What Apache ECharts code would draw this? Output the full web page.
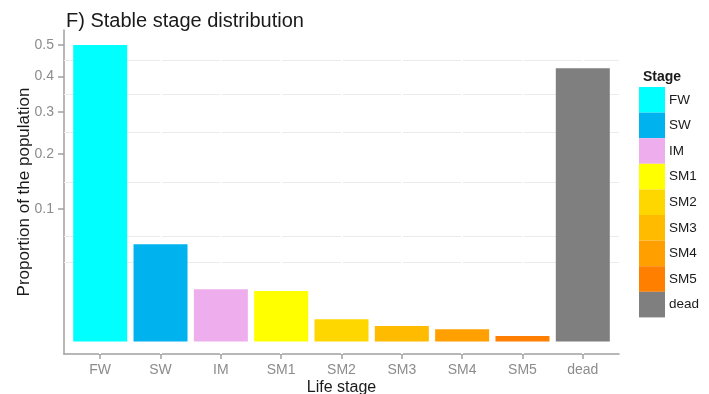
<!DOCTYPE html>
<html>
<head>
<meta charset="utf-8">
<script src="https://cdn.jsdelivr.net/npm/echarts@6/dist/echarts.min.js"></script>
<style>
  html, body { margin: 0; padding: 0; background: #fff; }
  #chart { width: 709px; height: 394px; }
</style>
</head>
<body>
<div id="chart"></div>
<script>
// Life stages and their stable-stage proportions
const stages = ['FW', 'SW', 'IM', 'SM1', 'SM2', 'SM3', 'SM4', 'SM5', 'dead'];
const proportions = [0.5, 0.0537, 0.0155, 0.0145, 0.0028, 0.00135, 0.00083, 0.00017, 0.4246];
const stageColors = ['#00FFFF', '#00B2EE', '#EEAEEE', '#FFFF00', '#FFD700', '#FFBB00', '#FFA000', '#FF7F00', '#7F7F7F'];

// Square-root scaled y axis: major ticks and minor grid values (in proportion units)
const yTicks = [0.1, 0.2, 0.3, 0.4, 0.5];
const yMinorGrid = [0.036, 0.064, 0.146, 0.2475, 0.348, 0.4485];

const FONT = 'Liberation Sans, Arial, Helvetica, sans-serif';
const sq = v => Math.sqrt(v);

const chart = echarts.init(document.getElementById('chart'), null, { renderer: 'canvas' });

const barSeries = stages.map((s, i) => ({
  name: s,
  type: 'bar',
  z: 3,
  barWidth: 54,
  barGap: '-100%',
  itemStyle: { color: stageColors[i] },
  data: [[i + 1, sq(proportions[i])]]
}));

// Background grid: light minor lines, broken by white lines at category centres
const gridSeries = {
  name: '_grid',
  type: 'line',
  z: 1,
  data: [],
  silent: true,
  markLine: {
    z: 1,
    silent: true,
    symbol: ['none', 'none'],
    label: { show: false },
    animation: false,
    data: yMinorGrid.map(v => ({ yAxis: sq(v), lineStyle: { color: '#EBEBEB', width: 1.2, type: 'solid' } }))
      .concat(stages.map((s, i) => ({ xAxis: i + 1, lineStyle: { color: '#FFFFFF', width: 2, type: 'solid' } })))
  }
};

chart.setOption({
  animation: false,
  backgroundColor: '#FFFFFF',
  title: [
    {
      text: 'F) Stable stage distribution',
      left: 61, top: 6,
      textStyle: { fontFamily: FONT, fontSize: 20, fontWeight: 'normal', color: '#1a1a1a' }
    },
    {
      text: 'Stage',
      left: 638, top: 65,
      textStyle: { fontFamily: FONT, fontSize: 14, fontWeight: 'bold', color: '#1a1a1a' }
    }
  ],
  legend: {
    orient: 'vertical',
    left: 639, top: 87,
    padding: 0,
    itemWidth: 26, itemHeight: 25.6, itemGap: 0,
    icon: 'rect',
    selectedMode: false,
    data: stages,
    textStyle: { fontFamily: FONT, fontSize: 13.5, color: '#1a1a1a', padding: [0, 0, 0, -1] }
  },
  grid: { left: 64, right: 90, top: 30, bottom: 40, containLabel: false, outerBoundsMode: 'none' },
  xAxis: {
    type: 'value',
    min: 0.4, max: 9.6,
    name: 'Life stage',
    nameLocation: 'middle',
    nameMoveOverlap: false,
    nameGap: 26,
    nameTextStyle: { fontFamily: FONT, fontSize: 16, color: '#1a1a1a' },
    splitLine: { show: false },
    axisLine: { show: true, onZero: false, lineStyle: { color: '#A0A0A0', width: 1.5 } },
    axisTick: { show: true, length: 5, customValues: stages.map((s, i) => i + 1), lineStyle: { color: '#A0A0A0', width: 1.5 } },
    axisLabel: {
      customValues: stages.map((s, i) => i + 1),
      formatter: v => stages[Math.round(v) - 1] || '',
      fontFamily: FONT, fontSize: 14, color: '#8C8C8C', margin: 9
    }
  },
  yAxis: {
    type: 'value',
    min: -0.03, max: 0.743,
    name: 'Proportion of the population',
    nameLocation: 'middle',
    nameMoveOverlap: false,
    nameGap: 31.5,
    nameRotate: 90,
    nameTextStyle: { fontFamily: FONT, fontSize: 17, color: '#1a1a1a' },
    splitLine: { show: false },
    axisLine: { show: true, onZero: false, lineStyle: { color: '#A0A0A0', width: 1.5 } },
    axisTick: { show: true, length: 6, customValues: yTicks.map(sq), lineStyle: { color: '#A0A0A0', width: 1.5 } },
    axisLabel: {
      customValues: yTicks.map(sq),
      formatter: v => (v * v).toFixed(1),
      fontFamily: FONT, fontSize: 14, color: '#8C8C8C', margin: 10
    }
  },
  series: [gridSeries].concat(barSeries)
});
</script>
</body>
</html>
